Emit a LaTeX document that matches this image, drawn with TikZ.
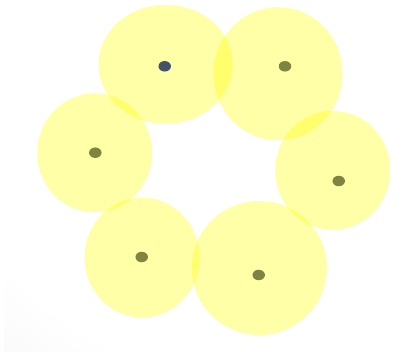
\documentclass[tikz,border=0pt]{standalone}
\usepackage{tikz}
\usetikzlibrary{shapes.geometric}
\definecolor{zoneyellow}{RGB}{255,255,0}
\definecolor{coreolive}{RGB}{128,132,64}
\definecolor{coreblue}{RGB}{70,82,108}
\pgfdeclareradialshading{bgshade}{\pgfpoint{12bp}{18bp}}{color(0bp)=(white); color(38bp)=(white); color(62bp)=(black!7); color(80bp)=(black!12)}

\begin{document}
\begin{tikzpicture}[
    x=1pt, y=-1pt,
    zone/.style={ellipse, draw=none, fill=zoneyellow, fill opacity=0.34, inner sep=0pt},
    core/.style={ellipse, draw=none, fill=coreolive, minimum width=12.5pt, minimum height=10.5pt, inner sep=0pt}
  ]
  \useasboundingbox (0,0) rectangle (410,352);
  \shade[shading=bgshade] (4,0) rectangle (410,352);

  % the six zones
  \node[zone, minimum width=134pt, minimum height=119pt] (z1) at (165.5,64.3) {};
  \node[zone, minimum width=129pt, minimum height=133pt] (z2) at (278,73.7) {};
  \node[zone, minimum width=115pt, minimum height=119pt] (z3) at (94.7,152.8) {};
  \node[zone, minimum width=115pt, minimum height=119pt] (z4) at (332.7,170.3) {};
  \node[zone, minimum width=115pt, minimum height=120pt] (z5) at (142,257.5) {};
  \node[zone, minimum width=135pt, minimum height=134pt] (z6) at (259.3,268) {};

  % centres
  \node[core, fill=coreblue] (c1) at (164.7,66.3) {};
  \node[core] (c2) at (285,66.3) {};
  \node[core] (c3) at (95.3,152.7) {};
  \node[core] (c4) at (338.7,181) {};
  \node[core] (c5) at (141.7,257) {};
  \node[core] (c6) at (258.7,275) {};
\end{tikzpicture}
\end{document}
